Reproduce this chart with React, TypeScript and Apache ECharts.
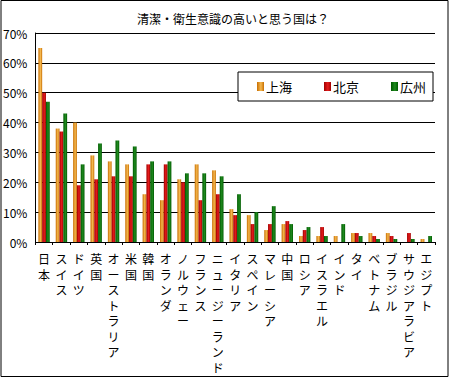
import React, { useEffect, useRef } from "react";
import * as echarts from "echarts";

const categories = [
  "日本", "スイス", "ドイツ", "英国", "オーストラリア", "米国", "韓国", "オランダ",
  "ノルウェー", "フランス", "ニュージーランド", "イタリア", "スペイン", "マレーシア",
  "中国", "ロシア", "イスラエル", "インド", "タイ", "ベトナム", "ブラジル",
  "サウジアラビア", "エジプト",
];
const shanghai = [65, 38, 40, 29, 27, 26, 16, 14, 21, 26, 24, 11, 9, 4, 6, 2, 2, 2, 3, 3, 3, 0, 1];
const beijing = [50, 37, 19, 21, 22, 22, 26, 26, 20, 14, 16, 9, 6, 6, 7, 4, 5, 0, 3, 2, 2, 3, 0];
const guangzhou = [47, 43, 26, 33, 34, 32, 27, 27, 23, 23, 22, 16, 10, 12, 6, 5, 2, 6, 2, 1, 1, 1, 2];
const seriesNames = ["上海", "北京", "広州"];
const yTicks = { min: 0, max: 70, interval: 10 };
const title = "清潔・衛生意識の高いと思う国は？";

const FONT = "'Noto Sans CJK JP', 'Noto Sans', sans-serif";

function grad(dark: string, light: string) {
  return new echarts.graphic.LinearGradient(0, 0, 1, 0, [
    { offset: 0, color: dark },
    { offset: 0.55, color: light },
    { offset: 1, color: dark },
  ]);
}

export default function App() {
  const ref = useRef<HTMLDivElement>(null);
  useEffect(() => {
    document.body.style.margin = "0";
    const chart = echarts.init(ref.current!, null, { renderer: "svg" });
    const colors = [
      grad("#c86e00", "#f4b850"),
      grad("#a00000", "#e41c1c"),
      grad("#005a00", "#1f8a1f"),
    ];
    const data = [shanghai, beijing, guangzhou];
    chart.setOption({
      animation: false,
      backgroundColor: "#ffffff",
      textStyle: { fontFamily: FONT },
      title: {
        text: title,
        left: 228,
        textAlign: "center",
        top: 7,
        textStyle: { fontSize: 12, fontWeight: "normal", color: "#000", fontFamily: FONT },
      },
      legend: {
        left: 238,
        top: 72,
        orient: "horizontal",
        backgroundColor: "#fff",
        borderColor: "#000",
        borderWidth: 1,
        padding: [8, 7, 8, 19],
        itemGap: 32,
        itemWidth: 7,
        itemHeight: 9,
        icon: "rect",
        data: seriesNames,
        textStyle: { fontSize: 13, color: "#000", fontFamily: FONT, padding: [0, 0, 0, -3] },
      },
      grid: { left: 35, top: 33, right: 15, bottom: 137, containLabel: false },
      xAxis: {
        type: "category",
        data: categories,
        axisLine: { show: true, lineStyle: { color: "#000", width: 1 } },
        axisTick: { show: true, length: 3, lineStyle: { color: "#000" } },
        axisLabel: {
          interval: 0,
          margin: 9,
          fontSize: 12,
          lineHeight: 15.5,
          color: "#000",
          fontFamily: FONT,
          formatter: (v: string) => v.split("").join("\n"),
        },
      },
      yAxis: {
        type: "value",
        min: yTicks.min,
        max: yTicks.max,
        interval: yTicks.interval,
        axisLine: { show: true, lineStyle: { color: "#000", width: 1 } },
        axisTick: { show: false },
        axisLabel: {
          formatter: "{value}%",
          fontSize: 12,
          color: "#000",
          margin: 8,
          fontFamily: FONT,
        },
        splitLine: { show: true, lineStyle: { color: "#000", width: 1 } },
      },
      series: seriesNames.map((name, i) => ({
        name,
        type: "bar",
        data: data[i],
        barWidth: 3.8,
        barGap: "0%",
        itemStyle: { color: colors[i] },
      })),
      graphic: [
        {
          type: "rect",
          shape: { x: 1, y: 0.5, width: 447, height: 376 },
          style: { fill: "none", stroke: "#000", lineWidth: 1 },
          silent: true,
          z: 100,
        },
      ],
    });
    return () => chart.dispose();
  }, []);
  return (
    <div
      ref={ref}
      style={{ position: "absolute", left: 0, top: 0, width: 450, height: 379 }}
    />
  );
}
